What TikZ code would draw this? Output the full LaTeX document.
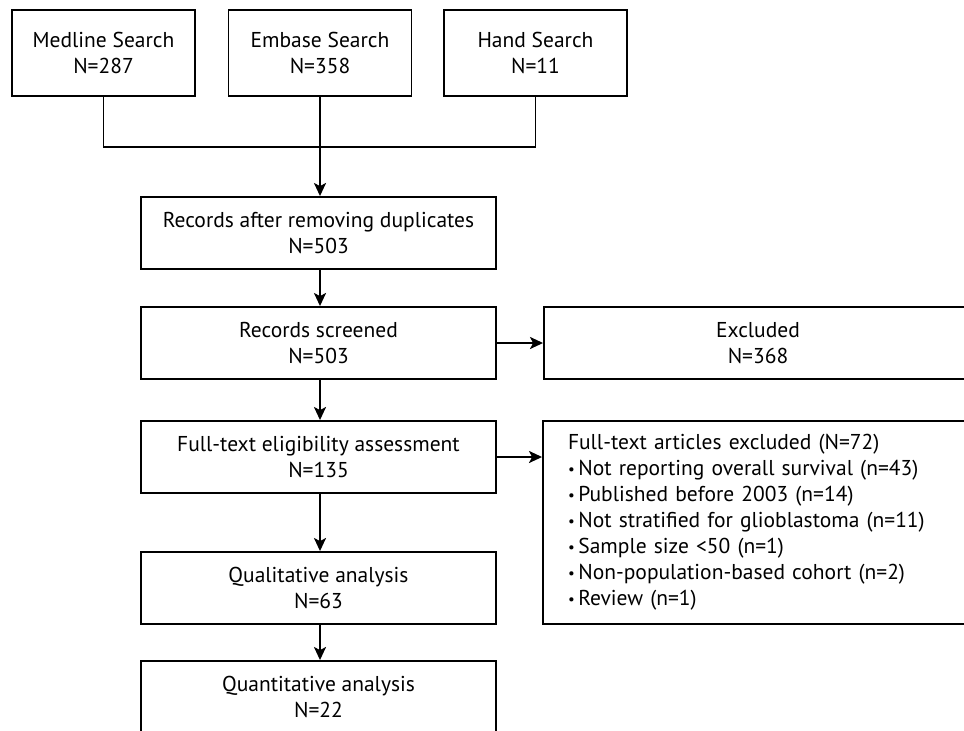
\documentclass[tikz,border=0pt]{standalone}
\usepackage{fontspec}
\setmainfont{PT Sans}
\usetikzlibrary{arrows.meta}
\newcommand{\smallbul}{\raisebox{1.5pt}{\fontsize{15}{15}\selectfont •}\,}
\begin{document}
\begin{tikzpicture}[x=1pt,y=-1pt,
  box/.style={draw, line width=1.9pt, align=center, inner sep=0pt,
    font=\fontsize{21.5}{26}\selectfont},
  arr/.style={line width=1.9pt, -{Stealth[length=13pt,width=12pt,inset=3pt]}},
  ln/.style={line width=1.9pt}]
\useasboundingbox (0,0) rectangle (964,731);
\clip (0,0) rectangle (964,731);
\node[box, minimum width=183pt, minimum height=86pt] (med) at (103.5,53) {Medline Search\\N=287};
\node[box, minimum width=183pt, minimum height=86pt] (emb) at (320,53) {Embase Search\\N=358};
\node[box, minimum width=183pt, minimum height=86pt] (hand) at (535.5,53) {Hand Search\\N=11};
\node[box, minimum width=355pt, minimum height=72pt] (dup) at (318.5,233) {Records after removing duplicates\\N=503};
\node[box, minimum width=355pt, minimum height=72pt] (scr) at (318.5,343) {Records screened\\N=503};
\node[box, minimum width=428pt, minimum height=72pt] (excl) at (758,343) {Excluded\\N=368};
\node[box, minimum width=355pt, minimum height=72pt] (ft) at (318.5,457) {Full-text eligibility assessment\\N=135};
\node[box, minimum width=429pt, minimum height=203pt, align=left, text width=379pt, inner xsep=25pt] (ftex) at (757.5,522.5)
 {Full-text articles excluded (N=72)\\
  \smallbul Not reporting overall survival (n=43)\\
  \smallbul Published before 2003 (n=14)\\
  \smallbul Not stratified for glioblastoma (n=11)\\
  \smallbul Sample size <50 (n=1)\\
  \smallbul Non-population-based cohort (n=2)\\
  \smallbul Review (n=1)};
\node[box, minimum width=355pt, minimum height=72pt] (qual) at (318.5,588) {Qualitative analysis\\N=63};
\node[box, minimum width=355pt, minimum height=72pt] (quant) at (318.5,697) {Quantitative analysis\\N=22};
\coordinate (j) at (320,147);
\draw[ln] (med.south) |- (j) -| (hand.south);
\draw[arr] (emb.south) -- (emb.south |- dup.north);
\draw[arr] (dup.south -| emb.south) -- (scr.north -| emb.south);
\draw[arr] (scr.east) -- (excl.west);
\draw[arr] (scr.south -| emb.south) -- (ft.north -| emb.south);
\draw[arr] (ft.east) -- (ft.east -| ftex.west);
\draw[arr] (ft.south -| emb.south) -- (qual.north -| emb.south);
\draw[arr] (qual.south -| emb.south) -- (quant.north -| emb.south);
\end{tikzpicture}
\end{document}
